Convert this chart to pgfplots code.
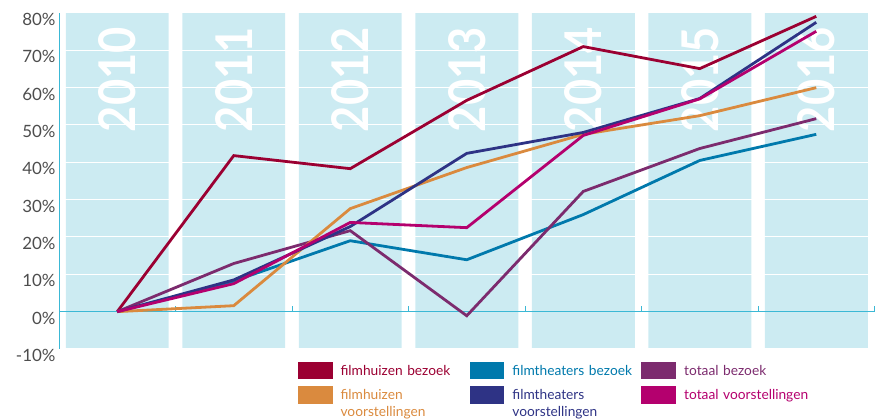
\documentclass[border=0pt]{standalone}
\usepackage{pgfplots}
\pgfplotsset{compat=1.18}
\usepackage{pgfplotstable}
\usepackage{fontspec}
\setmainfont{Lato}
\definecolor{fhb}{HTML}{9B0032}
\definecolor{fhv}{HTML}{DA8A3E}
\definecolor{ftb}{HTML}{0079AC}
\definecolor{ftv}{HTML}{2E3385}
\definecolor{tb}{HTML}{7C2B6E}
\definecolor{tv}{HTML}{B4006E}
\definecolor{colbg}{HTML}{CCEBF2}
\definecolor{axcyan}{HTML}{3BB8D5}
\definecolor{ticktext}{HTML}{4D4D4D}
\pgfplotstableread{
x fhb fhv ftb ftv tb tv
0 0 0 0 0 0 0
1 41.8 1.6 8.2 8.5 12.9 7.5
2 38.3 27.6 19.0 22.8 21.7 23.9
3 56.6 38.6 13.9 42.4 -1.1 22.5
4 71.0 47.5 26.0 48.0 32.2 47.2
5 65.1 52.5 40.5 57.1 43.7 57.0
6 79.1 60.0 47.5 77.5 51.7 75.1
}\datatable
\begin{document}
\begin{tikzpicture}
\begin{axis}[
 set layers,
 scale only axis,
 width=815.5bp, height=336bp,
 xmin=-0.5, xmax=6.5, ymin=-10, ymax=80,
 axis y line*=left,
 axis x line*=middle,
 axis line style={axcyan, line width=1bp},
 xtick={0.5,1.5,...,6.5},
 xticklabels={},
 xtick align=inside,
 major tick length=6bp,
 x tick style={axcyan, line width=1bp},
 ytick={-10,0,...,80},
 yticklabel={\pgfmathprintnumber{\tick}\%},
 y tick style={draw=none},
 yticklabel style={font=\fontsize{17}{20}\selectfont, text=ticktext, yshift=-6.5bp},
 /pgf/number format/assume math mode=true,
 ymajorgrids,
 grid style={white, line width=1bp},
 legend columns=3,
 legend cell align=left,
 legend style={at={(rel axis cs:0.2928,0)}, anchor=north west, yshift=-13bp, draw=none, fill=none, inner sep=0pt, outer sep=0pt, row sep=7bp, font=\fontsize{13.8}{16.5}\selectfont, nodes={inner sep=0pt, anchor=base west, text width=121bp, align=left}, /tikz/every odd column/.append style={column sep=8bp}, /tikz/every even column/.append style={column sep=8bp}},
 legend image code/.code={\fill (0bp,-2.5bp) rectangle (32bp,12bp);},
]
\addplot[ybar, bar width=0.884, bar shift=0pt, fill=colbg, draw=none, on layer=axis background, forget plot] coordinates {(0,80) (1,80) (2,80) (3,80) (4,80) (5,80) (6,80)};
\addplot[ybar, bar width=0.884, bar shift=0pt, fill=colbg, draw=none, on layer=axis background, forget plot] coordinates {(0,-10) (1,-10) (2,-10) (3,-10) (4,-10) (5,-10) (6,-10)};
\node[rotate=90, anchor=east, text=white, inner sep=0pt] at ([yshift=-14bp]axis cs:0,80) {\resizebox{105bp}{37bp}{\bfseries 2010}};
\node[rotate=90, anchor=east, text=white, inner sep=0pt] at ([yshift=-14bp]axis cs:1,80) {\resizebox{105bp}{37bp}{\bfseries 2011}};
\node[rotate=90, anchor=east, text=white, inner sep=0pt] at ([yshift=-14bp]axis cs:2,80) {\resizebox{105bp}{37bp}{\bfseries 2012}};
\node[rotate=90, anchor=east, text=white, inner sep=0pt] at ([yshift=-14bp]axis cs:3,80) {\resizebox{105bp}{37bp}{\bfseries 2013}};
\node[rotate=90, anchor=east, text=white, inner sep=0pt] at ([yshift=-14bp]axis cs:4,80) {\resizebox{105bp}{37bp}{\bfseries 2014}};
\node[rotate=90, anchor=east, text=white, inner sep=0pt] at ([yshift=-14bp]axis cs:5,80) {\resizebox{105bp}{37bp}{\bfseries 2015}};
\node[rotate=90, anchor=east, text=white, inner sep=0pt] at ([yshift=-14bp]axis cs:6,80) {\resizebox{105bp}{37bp}{\bfseries 2016}};
\addplot[fhb, line width=2.8bp, no marks] table[x=x, y=fhb] {\datatable};
\addlegendentry[text=fhb]{filmhuizen bezoek}
\addplot[ftb, line width=2.8bp, no marks] table[x=x, y=ftb] {\datatable};
\addlegendentry[text=ftb]{filmtheaters bezoek}
\addplot[tb, line width=2.8bp, no marks] table[x=x, y=tb] {\datatable};
\addlegendentry[text=tb]{totaal bezoek}
\addplot[fhv, line width=2.8bp, no marks] table[x=x, y=fhv] {\datatable};
\addlegendentry[text=fhv]{filmhuizen\\voorstellingen}
\addplot[ftv, line width=2.8bp, no marks] table[x=x, y=ftv] {\datatable};
\addlegendentry[text=ftv]{filmtheaters\\voorstellingen}
\addplot[tv, line width=2.8bp, no marks] table[x=x, y=tv] {\datatable};
\addlegendentry[text=tv]{\mbox{totaal voorstellingen}}
\end{axis}
\pgfresetboundingbox
\path ([xshift=-59bp,yshift=-70bp]current axis.south west) rectangle ([xshift=1.5bp,yshift=13bp]current axis.north east);
\end{tikzpicture}
\end{document}
